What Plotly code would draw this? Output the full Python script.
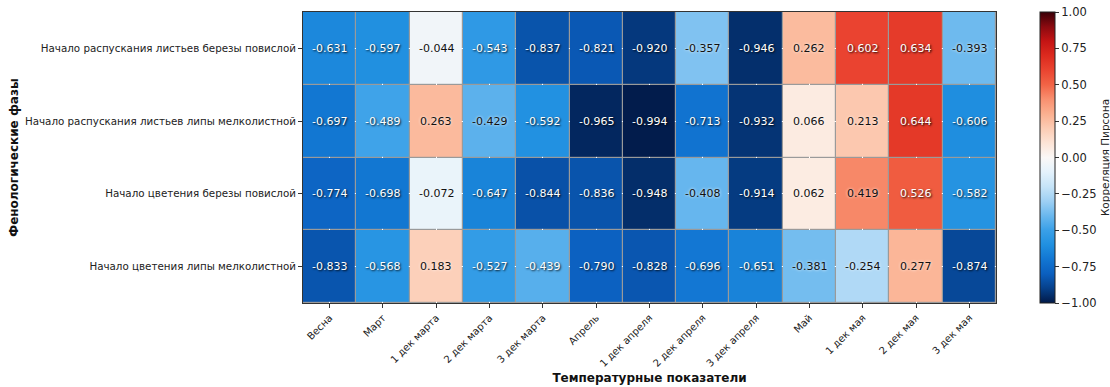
import plotly.graph_objects as go

phases = [
    "Начало распускания листьев березы повислой",
    "Начало распускания листьев липы мелколистной",
    "Начало цветения березы повислой",
    "Начало цветения липы мелколистной",
]
periods = [
    "Весна", "Март", "1 дек марта", "2 дек марта", "3 дек марта",
    "Апрель", "1 дек апреля", "2 дек апреля", "3 дек апреля",
    "Май", "1 дек мая", "2 дек мая", "3 дек мая",
]
corr_birch_leaf = [-0.631, -0.597, -0.044, -0.543, -0.837, -0.821, -0.920, -0.357, -0.946, 0.262, 0.602, 0.634, -0.393]
corr_linden_leaf = [-0.697, -0.489, 0.263, -0.429, -0.592, -0.965, -0.994, -0.713, -0.932, 0.066, 0.213, 0.644, -0.606]
corr_birch_flower = [-0.774, -0.698, -0.072, -0.647, -0.844, -0.836, -0.948, -0.408, -0.914, 0.062, 0.419, 0.526, -0.582]
corr_linden_flower = [-0.833, -0.568, 0.183, -0.527, -0.439, -0.790, -0.828, -0.696, -0.651, -0.381, -0.254, 0.277, -0.874]

z = [corr_birch_leaf, corr_linden_leaf, corr_birch_flower, corr_linden_flower]

colorscale = [
    [0.00, "#021a48"], [0.05, "#06408a"], [0.10, "#0b5fbf"], [0.15, "#1276d2"],
    [0.20, "#2090e0"], [0.25, "#3aa0e8"], [0.30, "#6ab8ee"], [0.35, "#9ed0f4"],
    [0.40, "#c6e4f8"], [0.45, "#e4f2fc"], [0.50, "#fbf8f6"], [0.55, "#fde4d6"],
    [0.60, "#fcccb4"], [0.65, "#fbb090"], [0.70, "#f89070"], [0.75, "#f26446"],
    [0.80, "#ea4430"], [0.85, "#dc2a1e"], [0.90, "#c41414"], [0.95, "#8a0a10"],
    [1.00, "#3a0008"],
]

fig = go.Figure()
fig.add_trace(go.Heatmap(
    z=z, x=periods, y=phases, zmin=-1, zmax=1, colorscale=colorscale,
    xgap=1.2, ygap=1.2, hoverinfo="skip",
    colorbar=dict(
        x=1.0635, xanchor="left", xref="paper", y=0.5, yanchor="middle", len=1.0,
        xpad=0, ypad=0,
        thickness=15, outlinewidth=1, outlinecolor="#222",
        tickvals=[-1, -0.75, -0.5, -0.25, 0, 0.25, 0.5, 0.75, 1],
        tickformat=".2f", ticks="outside", ticklen=4, tickcolor="#333",
        tickfont=dict(family="DejaVu Sans", size=11.5, color="#222"),
        title=dict(text="Корреляция Пирсона", side="right",
                   font=dict(family="DejaVu Sans", size=10.5, color="#222")),
    ),
))

annotations = []
for i, row in enumerate(z):
    for j, v in enumerate(row):
        light = abs(v) > 0.435
        annotations.append(dict(
            x=periods[j], y=phases[i], text=f"{v:.3f}", showarrow=False,
            font=dict(family="DejaVu Sans", size=11,
                      color="white" if light else "#111",
                      shadow="1px 1px 2px rgba(0,0,0,0.9)" if light else "0px 0px 3px rgba(255,255,255,1)"),
        ))

fig.update_layout(
    width=1110, height=387,
    margin=dict(l=303, r=114, t=12, b=84, autoexpand=False),
    paper_bgcolor="white", plot_bgcolor="#9a9a9a",
    annotations=annotations,
    font=dict(family="DejaVu Sans", size=11, color="#222"),
)
fig.update_xaxes(
    automargin=False,
    tickangle=-45, ticks="outside", ticklen=4, tickcolor="#333",
    tickfont=dict(family="DejaVu Sans", size=10, color="#222"),
    title=dict(text="<b>Температурные показатели</b>", standoff=5,
               font=dict(family="DejaVu Sans", size=12, color="#111")),
    showline=True, linecolor="#333", linewidth=1, mirror=True,
)
fig.update_yaxes(
    automargin=False,
    autorange="reversed", ticks="outside", ticklen=4, tickcolor="#333",
    tickfont=dict(family="DejaVu Sans", size=10.3, color="#222"),
    title=dict(text="<b>Фенологические фазы</b>", standoff=3,
               font=dict(family="DejaVu Sans", size=12, color="#111")),
    showline=True, linecolor="#333", linewidth=1, mirror=True,
)

fig.write_html("out.html", config={"displayModeBar": False},
               post_script="document.body.style.margin='0';")
